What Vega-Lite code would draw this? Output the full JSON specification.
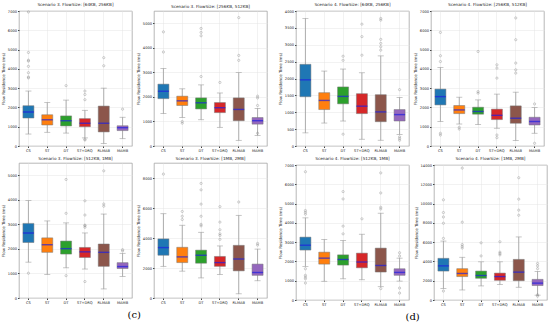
{
  "$schema": "https://vega.github.io/schema/vega-lite/v6.json",
  "padding": {"left": 1, "right": 1, "top": 2, "bottom": 2},
  "background": "white",
  "config": {
    "font": "DejaVu Sans",
    "view": {"stroke": "#999999", "strokeWidth": 0.7},
    "axis": {"labelFontSize": 3.6, "titleFontSize": 4, "titleFontWeight": "normal", "labelColor": "#222", "titleColor": "#222", "tickSize": 1.5, "labelPadding": 1, "titlePadding": 2, "grid": true, "gridColor": "#e4e4e4", "gridWidth": 0.5, "domain": false, "tickColor": "#444"},
    "axisY": {"format": "d", "tickCount": 6},
    "header": {"labelFontSize": 4.2, "labelPadding": 1.5, "labelColor": "#222", "title": null},
    "title": {"font": "DejaVu Serif", "fontSize": 10, "fontWeight": "normal", "offset": 6}
  },
  "data": {"values": [
    {"p":1,"m":"CS","lo":620,"q1":1450,"md":1760,"q3":2090,"hi":2850},
    {"p":1,"m":"ST","lo":710,"q1":1090,"md":1360,"q3":1620,"hi":2250},
    {"p":1,"m":"DT","lo":670,"q1":1040,"md":1310,"q3":1560,"hi":2380},
    {"p":1,"m":"ST+DRQ","lo":420,"q1":1000,"md":1180,"q3":1420,"hi":1850},
    {"p":1,"m":"RLMAB","lo":130,"q1":730,"md":1180,"q3":2070,"hi":3000},
    {"p":1,"m":"MAMB","lo":380,"q1":800,"md":950,"q3":1050,"hi":1490},
    {"p":1,"m":"CS","v":3530},{"p":1,"m":"CS","v":3580},{"p":1,"m":"CS","v":3800},{"p":1,"m":"CS","v":4130},{"p":1,"m":"CS","v":4400},{"p":1,"m":"CS","v":4450},{"p":1,"m":"CS","v":4850},{"p":1,"m":"CS","v":6950},
    {"p":1,"m":"DT","v":3130},
    {"p":1,"m":"ST+DRQ","v":310},{"p":1,"m":"ST+DRQ","v":350},{"p":1,"m":"ST+DRQ","v":2400},{"p":1,"m":"ST+DRQ","v":2670},{"p":1,"m":"ST+DRQ","v":2850},
    {"p":1,"m":"RLMAB","v":4160},{"p":1,"m":"RLMAB","v":4580},
    {"p":1,"m":"MAMB","v":1910},

    {"p":2,"m":"CS","lo":1320,"q1":1930,"md":2230,"q3":2520,"hi":3160},
    {"p":2,"m":"ST","lo":1160,"q1":1650,"md":1840,"q3":2030,"hi":2330},
    {"p":2,"m":"DT","lo":1070,"q1":1510,"md":1760,"q3":1960,"hi":2490},
    {"p":2,"m":"ST+DRQ","lo":760,"q1":1360,"md":1560,"q3":1770,"hi":2160},
    {"p":2,"m":"RLMAB","lo":230,"q1":1030,"md":1490,"q3":1960,"hi":2990},
    {"p":2,"m":"MAMB","lo":430,"q1":890,"md":1030,"q3":1160,"hi":1530},
    {"p":2,"m":"CS","v":3830},{"p":2,"m":"CS","v":4650},
    {"p":2,"m":"ST","v":1000},{"p":2,"m":"ST","v":930},
    {"p":2,"m":"DT","v":2830},{"p":2,"m":"DT","v":4490},{"p":2,"m":"DT","v":4630},{"p":2,"m":"DT","v":4790},
    {"p":2,"m":"ST+DRQ","v":2590},
    {"p":2,"m":"RLMAB","v":3490},{"p":2,"m":"RLMAB","v":3690},{"p":2,"m":"RLMAB","v":5230},
    {"p":2,"m":"MAMB","v":1650},{"p":2,"m":"MAMB","v":1960},{"p":2,"m":"MAMB","v":2030},{"p":2,"m":"MAMB","v":520},

    {"p":3,"m":"CS","lo":1460,"q1":2260,"md":2650,"q3":3040,"hi":3970},
    {"p":3,"m":"ST","lo":960,"q1":1860,"md":2170,"q3":2450,"hi":3140},
    {"p":3,"m":"DT","lo":1230,"q1":1790,"md":2010,"q3":2320,"hi":3060},
    {"p":3,"m":"ST+DRQ","lo":1180,"q1":1650,"md":1880,"q3":2060,"hi":2650},
    {"p":3,"m":"RLMAB","lo":370,"q1":1290,"md":1860,"q3":2200,"hi":3420},
    {"p":3,"m":"MAMB","lo":880,"q1":1200,"md":1280,"q3":1440,"hi":1820},
    {"p":3,"m":"CS","v":1010},
    {"p":3,"m":"DT","v":910},{"p":3,"m":"DT","v":3450},{"p":3,"m":"DT","v":4830},
    {"p":3,"m":"ST+DRQ","v":670},{"p":3,"m":"ST+DRQ","v":2880},{"p":3,"m":"ST+DRQ","v":2940},{"p":3,"m":"ST+DRQ","v":2970},{"p":3,"m":"ST+DRQ","v":3380},{"p":3,"m":"ST+DRQ","v":3960},
    {"p":3,"m":"RLMAB","v":3740},{"p":3,"m":"RLMAB","v":3830},{"p":3,"m":"RLMAB","v":5180},
    {"p":3,"m":"MAMB","v":1920},{"p":3,"m":"MAMB","v":1970},

    {"p":4,"m":"CS","lo":2110,"q1":2850,"md":3360,"q3":3940,"hi":5620},
    {"p":4,"m":"ST","lo":1790,"q1":2360,"md":2740,"q3":3380,"hi":4850},
    {"p":4,"m":"DT","lo":1340,"q1":2320,"md":2850,"q3":3190,"hi":4380},
    {"p":4,"m":"ST+DRQ","lo":1570,"q1":2110,"md":2360,"q3":2770,"hi":3470},
    {"p":4,"m":"RLMAB","lo":280,"q1":1810,"md":2600,"q3":3510,"hi":5510},
    {"p":4,"m":"MAMB","lo":1150,"q1":1510,"md":1700,"q3":2260,"hi":3260},
    {"p":4,"m":"CS","v":8260},
    {"p":4,"m":"ST","v":5230},{"p":4,"m":"ST","v":5450},{"p":4,"m":"ST","v":5770},
    {"p":4,"m":"DT","v":4810},{"p":4,"m":"DT","v":4910},{"p":4,"m":"DT","v":5450},{"p":4,"m":"DT","v":6260},{"p":4,"m":"DT","v":7210},{"p":4,"m":"DT","v":7640},
    {"p":4,"m":"ST+DRQ","v":3910},{"p":4,"m":"ST+DRQ","v":4170},{"p":4,"m":"ST+DRQ","v":4280},{"p":4,"m":"ST+DRQ","v":4550},{"p":4,"m":"ST+DRQ","v":5060},{"p":4,"m":"ST+DRQ","v":6090},
    {"p":4,"m":"RLMAB","v":6400},
    {"p":4,"m":"MAMB","v":3530},{"p":4,"m":"MAMB","v":3640},

    {"p":5,"m":"CS","lo":390,"q1":1460,"md":1960,"q3":2420,"hi":3780},
    {"p":5,"m":"ST","lo":680,"q1":1080,"md":1350,"q3":1580,"hi":2220},
    {"p":5,"m":"DT","lo":740,"q1":1250,"md":1470,"q3":1750,"hi":2280},
    {"p":5,"m":"ST+DRQ","lo":200,"q1":960,"md":1180,"q3":1550,"hi":2170},
    {"p":5,"m":"RLMAB","lo":170,"q1":720,"md":1010,"q3":1520,"hi":2670},
    {"p":5,"m":"MAMB","lo":340,"q1":740,"md":930,"q3":1080,"hi":1440},
    {"p":5,"m":"DT","v":350},{"p":5,"m":"DT","v":2540},{"p":5,"m":"DT","v":2660},
    {"p":5,"m":"ST+DRQ","v":2690},{"p":5,"m":"ST+DRQ","v":3240},{"p":5,"m":"ST+DRQ","v":3610},
    {"p":5,"m":"RLMAB","v":2840},{"p":5,"m":"RLMAB","v":2940},{"p":5,"m":"RLMAB","v":3040},{"p":5,"m":"RLMAB","v":3160},{"p":5,"m":"RLMAB","v":3730},{"p":5,"m":"RLMAB","v":3780},
    {"p":5,"m":"MAMB","v":1670},{"p":5,"m":"MAMB","v":170},{"p":5,"m":"MAMB","v":220},{"p":5,"m":"MAMB","v":270},

    {"p":6,"m":"CS","lo":1270,"q1":2130,"md":2560,"q3":2950,"hi":4070},
    {"p":6,"m":"ST","lo":1140,"q1":1680,"md":1870,"q3":2100,"hi":2530},
    {"p":6,"m":"DT","lo":1110,"q1":1650,"md":1790,"q3":2010,"hi":2390},
    {"p":6,"m":"ST+DRQ","lo":920,"q1":1370,"md":1590,"q3":1910,"hi":2690},
    {"p":6,"m":"RLMAB","lo":290,"q1":1180,"md":1440,"q3":2080,"hi":2790},
    {"p":6,"m":"MAMB","lo":660,"q1":1090,"md":1270,"q3":1490,"hi":1990},
    {"p":6,"m":"CS","v":660},{"p":6,"m":"CS","v":570},{"p":6,"m":"CS","v":4380},{"p":6,"m":"CS","v":4680},{"p":6,"m":"CS","v":5890},
    {"p":6,"m":"ST","v":970},{"p":6,"m":"ST","v":880},
    {"p":6,"m":"DT","v":2740},{"p":6,"m":"DT","v":2820},{"p":6,"m":"DT","v":4900},
    {"p":6,"m":"ST+DRQ","v":570},{"p":6,"m":"ST+DRQ","v":430},{"p":6,"m":"ST+DRQ","v":3520},{"p":6,"m":"ST+DRQ","v":4040},{"p":6,"m":"ST+DRQ","v":4210},
    {"p":6,"m":"RLMAB","v":3780},{"p":6,"m":"RLMAB","v":3950},{"p":6,"m":"RLMAB","v":4300},{"p":6,"m":"RLMAB","v":5510},{"p":6,"m":"RLMAB","v":6640},
    {"p":6,"m":"MAMB","v":2180},{"p":6,"m":"MAMB","v":140},

    {"p":7,"m":"CS","lo":1740,"q1":2590,"md":2840,"q3":3260,"hi":4260},
    {"p":7,"m":"ST","lo":970,"q1":1860,"md":2170,"q3":2480,"hi":3140},
    {"p":7,"m":"DT","lo":1100,"q1":1810,"md":2100,"q3":2340,"hi":3090},
    {"p":7,"m":"ST+DRQ","lo":1050,"q1":1670,"md":1970,"q3":2430,"hi":3410},
    {"p":7,"m":"RLMAB","lo":690,"q1":1450,"md":1790,"q3":2690,"hi":4500},
    {"p":7,"m":"MAMB","lo":980,"q1":1280,"md":1430,"q3":1620,"hi":2170},
    {"p":7,"m":"CS","v":1620},{"p":7,"m":"CS","v":1280},{"p":7,"m":"CS","v":1190},{"p":7,"m":"CS","v":1100},{"p":7,"m":"CS","v":880},{"p":7,"m":"CS","v":4450},{"p":7,"m":"CS","v":4550},{"p":7,"m":"CS","v":4640},{"p":7,"m":"CS","v":6650},
    {"p":7,"m":"DT","v":3430},{"p":7,"m":"DT","v":3830},{"p":7,"m":"DT","v":5240},{"p":7,"m":"DT","v":5620},
    {"p":7,"m":"ST+DRQ","v":4210},
    {"p":7,"m":"RLMAB","v":4720},{"p":7,"m":"RLMAB","v":4810},{"p":7,"m":"RLMAB","v":5550},{"p":7,"m":"RLMAB","v":6590},{"p":7,"m":"RLMAB","v":590},
    {"p":7,"m":"MAMB","v":2280},{"p":7,"m":"MAMB","v":2450},{"p":7,"m":"MAMB","v":620},{"p":7,"m":"MAMB","v":360},

    {"p":8,"m":"CS","lo":1180,"q1":3000,"md":3540,"q3":4320,"hi":6110},
    {"p":8,"m":"ST","lo":1040,"q1":2430,"md":2750,"q3":3250,"hi":4430},
    {"p":8,"m":"DT","lo":1460,"q1":2250,"md":2540,"q3":3000,"hi":3960},
    {"p":8,"m":"ST+DRQ","lo":1610,"q1":2040,"md":2430,"q3":2790,"hi":3960},
    {"p":8,"m":"RLMAB","lo":1320,"q1":2000,"md":2890,"q3":4210,"hi":6540},
    {"p":8,"m":"MAMB","lo":500,"q1":1500,"md":1750,"q3":2140,"hi":2960},
    {"p":8,"m":"CS","v":930},{"p":8,"m":"CS","v":6390},{"p":8,"m":"CS","v":7960},{"p":8,"m":"CS","v":8610},{"p":8,"m":"CS","v":9070},{"p":8,"m":"CS","v":10390},
    {"p":8,"m":"ST","v":5390},{"p":8,"m":"ST","v":5570},{"p":8,"m":"ST","v":5750},{"p":8,"m":"ST","v":8070},{"p":8,"m":"ST","v":13680},
    {"p":8,"m":"DT","v":4570},{"p":8,"m":"DT","v":5930},
    {"p":8,"m":"ST+DRQ","v":4680},{"p":8,"m":"ST+DRQ","v":4820},{"p":8,"m":"ST+DRQ","v":4960},{"p":8,"m":"ST+DRQ","v":6040},
    {"p":8,"m":"RLMAB","v":8790},{"p":8,"m":"RLMAB","v":9320},{"p":8,"m":"RLMAB","v":10460},{"p":8,"m":"RLMAB","v":12680},
    {"p":8,"m":"MAMB","v":3250},{"p":8,"m":"MAMB","v":3540},{"p":8,"m":"MAMB","v":3790},{"p":8,"m":"MAMB","v":540},{"p":8,"m":"MAMB","v":390}
  ]},
  "spacing": 10,
  "hconcat": [
    {
      "title": {"text": "(c)", "orient": "bottom", "anchor": "middle"},
      "transform": [{"filter": "datum.p <= 4"}],
      "facet": {"field": "p", "type": "ordinal", "header": {"labelExpr": "['','Scenario 3. FlowSize: [64KB, 256KB]','Scenario 3. FlowSize: [256KB, 512KB]','Scenario 3. FlowSize: [512KB, 1MB]','Scenario 3. FlowSize: [1MB, 2MB]'][datum.value]"}},
      "columns": 2,
      "spacing": {"column": 3, "row": 3},
      "resolve": {"scale": {"y": "independent"}, "axis": {"x": "independent", "y": "independent"}},
      "spec": {
        "width": 113, "height": 135,
        "encoding": {"x": {"field": "m", "type": "nominal", "sort": ["CS","ST","DT","ST+DRQ","RLMAB","MAMB"], "title": null, "axis": {"labelAngle": 0}}},
        "layer": [
          {"transform": [{"filter": "isValid(datum.md)"}], "mark": {"type": "rule", "color": "#9a9a9a", "strokeWidth": 0.8}, "encoding": {"y": {"field": "lo", "type": "quantitative", "title": "Flow Residence Time (ms)"}, "y2": {"field": "hi"}}},
          {"transform": [{"filter": "isValid(datum.md)"}], "mark": {"type": "tick", "color": "#9a9a9a", "size": 6, "thickness": 0.8}, "encoding": {"y": {"field": "lo", "type": "quantitative", "title": "Flow Residence Time (ms)"}}},
          {"transform": [{"filter": "isValid(datum.md)"}], "mark": {"type": "tick", "color": "#9a9a9a", "size": 6, "thickness": 0.8}, "encoding": {"y": {"field": "hi", "type": "quantitative", "title": "Flow Residence Time (ms)"}}},
          {"transform": [{"filter": "isValid(datum.md)"}], "mark": {"type": "bar", "size": 11, "stroke": "#777777", "strokeWidth": 0.5, "opacity": 1}, "encoding": {"y": {"field": "q1", "type": "quantitative", "title": "Flow Residence Time (ms)"}, "y2": {"field": "q3"}, "color": {"field": "m", "type": "nominal", "legend": null, "scale": {"domain": ["CS","ST","DT","ST+DRQ","RLMAB","MAMB"], "range": ["#1f77b4","#ff7f0e","#2ca02c","#d62728","#8c564b","#9467bd"]}}}},
          {"transform": [{"filter": "isValid(datum.md)"}], "mark": {"type": "tick", "color": "#1f1fe0", "size": 11, "thickness": 1.4}, "encoding": {"y": {"field": "md", "type": "quantitative", "title": "Flow Residence Time (ms)"}}},
          {"transform": [{"filter": "isValid(datum.v)"}], "mark": {"type": "point", "shape": "circle", "filled": false, "size": 5, "strokeWidth": 0.5, "color": "#777777"}, "encoding": {"y": {"field": "v", "type": "quantitative", "title": "Flow Residence Time (ms)"}}}
        ]
      }
    },
    {
      "title": {"text": "(d)", "orient": "bottom", "anchor": "middle"},
      "transform": [{"filter": "datum.p >= 5"}],
      "facet": {"field": "p", "type": "ordinal", "header": {"labelExpr": "['','','','','','Scenario 4. FlowSize: [64KB, 256KB]','Scenario 4. FlowSize: [256KB, 512KB]','Scenario 4. FlowSize: [512KB, 1MB]','Scenario 4. FlowSize: [1MB, 2MB]'][datum.value]"}},
      "columns": 2,
      "spacing": {"column": 3, "row": 3},
      "resolve": {"scale": {"y": "independent"}, "axis": {"x": "independent", "y": "independent"}},
      "spec": {
        "width": 113, "height": 135,
        "encoding": {"x": {"field": "m", "type": "nominal", "sort": ["CS","ST","DT","ST+DRQ","RLMAB","MAMB"], "title": null, "axis": {"labelAngle": 0}}},
        "layer": [
          {"transform": [{"filter": "isValid(datum.md)"}], "mark": {"type": "rule", "color": "#9a9a9a", "strokeWidth": 0.8}, "encoding": {"y": {"field": "lo", "type": "quantitative", "title": "Flow Residence Time (ms)"}, "y2": {"field": "hi"}}},
          {"transform": [{"filter": "isValid(datum.md)"}], "mark": {"type": "tick", "color": "#9a9a9a", "size": 6, "thickness": 0.8}, "encoding": {"y": {"field": "lo", "type": "quantitative", "title": "Flow Residence Time (ms)"}}},
          {"transform": [{"filter": "isValid(datum.md)"}], "mark": {"type": "tick", "color": "#9a9a9a", "size": 6, "thickness": 0.8}, "encoding": {"y": {"field": "hi", "type": "quantitative", "title": "Flow Residence Time (ms)"}}},
          {"transform": [{"filter": "isValid(datum.md)"}], "mark": {"type": "bar", "size": 11, "stroke": "#777777", "strokeWidth": 0.5, "opacity": 1}, "encoding": {"y": {"field": "q1", "type": "quantitative", "title": "Flow Residence Time (ms)"}, "y2": {"field": "q3"}, "color": {"field": "m", "type": "nominal", "legend": null, "scale": {"domain": ["CS","ST","DT","ST+DRQ","RLMAB","MAMB"], "range": ["#1f77b4","#ff7f0e","#2ca02c","#d62728","#8c564b","#9467bd"]}}}},
          {"transform": [{"filter": "isValid(datum.md)"}], "mark": {"type": "tick", "color": "#1f1fe0", "size": 11, "thickness": 1.4}, "encoding": {"y": {"field": "md", "type": "quantitative", "title": "Flow Residence Time (ms)"}}},
          {"transform": [{"filter": "isValid(datum.v)"}], "mark": {"type": "point", "shape": "circle", "filled": false, "size": 5, "strokeWidth": 0.5, "color": "#777777"}, "encoding": {"y": {"field": "v", "type": "quantitative", "title": "Flow Residence Time (ms)"}}}
        ]
      }
    }
  ]
}
